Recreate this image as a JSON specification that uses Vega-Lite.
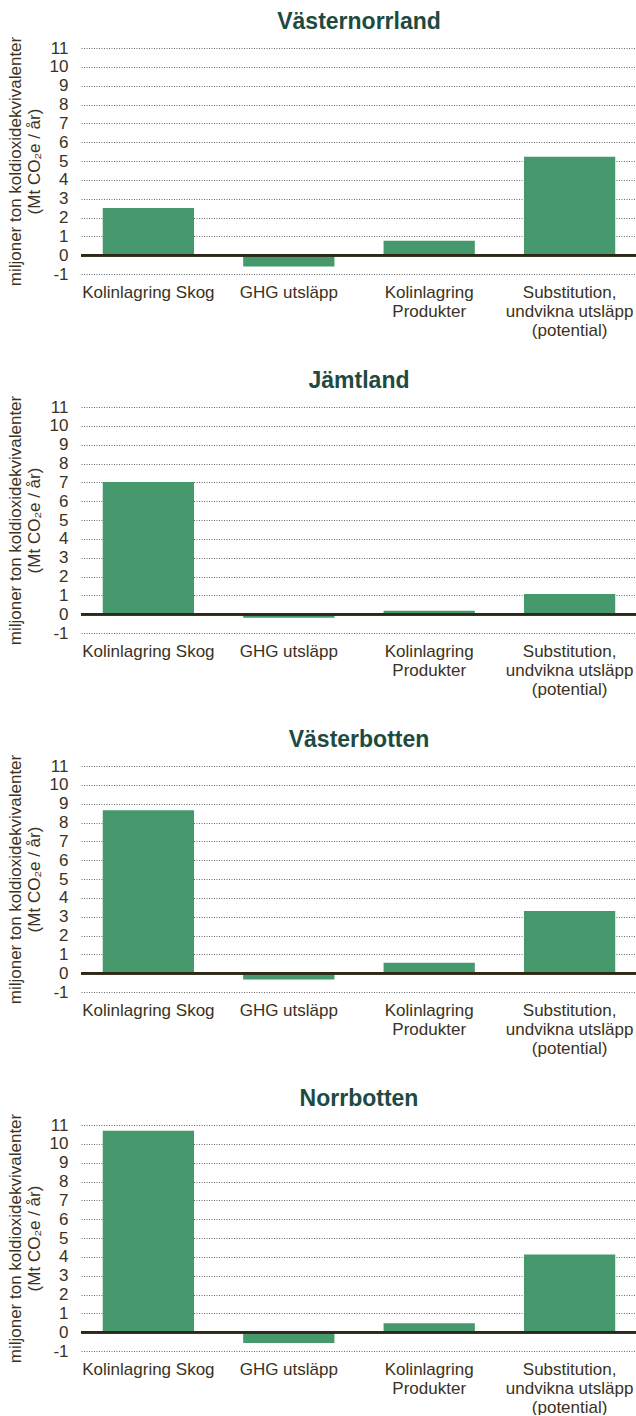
{
  "$schema": "https://vega.github.io/schema/vega-lite/v6.json",
  "background": "white",
  "padding": {"left": 6, "top": 11, "right": 0, "bottom": 0},
  "spacing": 32,
  "config": {
    "font": "Liberation Sans",
    "view": {"stroke": null},
    "title": {"fontSize": 23, "fontWeight": "bold", "color": "#1d4a41", "anchor": "middle", "frame": "group", "offset": 2},
    "axisY": {"grid": true, "gridDash": [1, 1.5], "gridColor": "#6a6a6a", "gridWidth": 1, "domain": false, "ticks": false, "labelFontSize": 17, "labelColor": "#3a3222", "labelPadding": 13, "labelOverlap": false, "tickCount": 13, "titleFontSize": 17, "titleFontWeight": "normal", "titleColor": "#3a3222", "titlePadding": 6, "titleLineHeight": 18.5},
    "axisX": {"grid": false, "domain": false, "ticks": false, "labelFontSize": 17, "labelColor": "#3a3222", "labelPadding": 10, "labelAngle": 0, "labelLineHeight": 19, "labelLimit": 0, "labelBaseline": "top", "labelOverlap": false}
  },
  "vconcat": [
    {
      "title": "Västernorrland",
      "width": 556, "height": 226,
      "data": {"values": [
        {"kategori": "Kolinlagring Skog", "varde": 2.5},
        {"kategori": "GHG utsläpp", "varde": -0.6},
        {"kategori": "Kolinlagring Produkter", "varde": 0.76},
        {"kategori": "Substitution, undvikna utsläpp (potential)", "varde": 5.23}
      ]},
      "layer": [
        {"mark": {"type": "bar", "color": "#46986d"},
         "encoding": {
          "x": {"field": "kategori", "type": "nominal", "sort": null, "scale": {"paddingInner": 0.35, "paddingOuter": 0.155}, "title": null,
                "axis": {"labelExpr": "datum.value == 'Kolinlagring Produkter' ? ['Kolinlagring', 'Produkter'] : datum.value == 'Substitution, undvikna utsläpp (potential)' ? ['Substitution,', 'undvikna utsläpp', '(potential)'] : datum.value"}},
          "y": {"field": "varde", "type": "quantitative", "scale": {"domain": [-1, 11], "nice": false, "zero": false},
                "axis": {"values": [-1, 0, 1, 2, 3, 4, 5, 6, 7, 8, 9, 10, 11], "tickCount": 13, "labelOverlap": false, "labelExpr": "replace(datum.label, '\u2212', '-')"},
                "title": ["miljoner ton koldioxidekvivalenter", "(Mt CO₂e / år)"]}
         }},
        {"mark": {"type": "rule", "color": "#2e2818", "strokeWidth": 2.5}, "encoding": {"y": {"datum": 0}}}
      ]
    },
    {
      "title": "Jämtland",
      "width": 556, "height": 226,
      "data": {"values": [
        {"kategori": "Kolinlagring Skog", "varde": 7.02},
        {"kategori": "GHG utsläpp", "varde": -0.19},
        {"kategori": "Kolinlagring Produkter", "varde": 0.18},
        {"kategori": "Substitution, undvikna utsläpp (potential)", "varde": 1.07}
      ]},
      "layer": [
        {"mark": {"type": "bar", "color": "#46986d"},
         "encoding": {
          "x": {"field": "kategori", "type": "nominal", "sort": null, "scale": {"paddingInner": 0.35, "paddingOuter": 0.155}, "title": null,
                "axis": {"labelExpr": "datum.value == 'Kolinlagring Produkter' ? ['Kolinlagring', 'Produkter'] : datum.value == 'Substitution, undvikna utsläpp (potential)' ? ['Substitution,', 'undvikna utsläpp', '(potential)'] : datum.value"}},
          "y": {"field": "varde", "type": "quantitative", "scale": {"domain": [-1, 11], "nice": false, "zero": false},
                "axis": {"values": [-1, 0, 1, 2, 3, 4, 5, 6, 7, 8, 9, 10, 11], "tickCount": 13, "labelOverlap": false, "labelExpr": "replace(datum.label, '\u2212', '-')"},
                "title": ["miljoner ton koldioxidekvivalenter", "(Mt CO₂e / år)"]}
         }},
        {"mark": {"type": "rule", "color": "#2e2818", "strokeWidth": 2.5}, "encoding": {"y": {"datum": 0}}}
      ]
    },
    {
      "title": "Västerbotten",
      "width": 556, "height": 226,
      "data": {"values": [
        {"kategori": "Kolinlagring Skog", "varde": 8.65},
        {"kategori": "GHG utsläpp", "varde": -0.34},
        {"kategori": "Kolinlagring Produkter", "varde": 0.55},
        {"kategori": "Substitution, undvikna utsläpp (potential)", "varde": 3.3}
      ]},
      "layer": [
        {"mark": {"type": "bar", "color": "#46986d"},
         "encoding": {
          "x": {"field": "kategori", "type": "nominal", "sort": null, "scale": {"paddingInner": 0.35, "paddingOuter": 0.155}, "title": null,
                "axis": {"labelExpr": "datum.value == 'Kolinlagring Produkter' ? ['Kolinlagring', 'Produkter'] : datum.value == 'Substitution, undvikna utsläpp (potential)' ? ['Substitution,', 'undvikna utsläpp', '(potential)'] : datum.value"}},
          "y": {"field": "varde", "type": "quantitative", "scale": {"domain": [-1, 11], "nice": false, "zero": false},
                "axis": {"values": [-1, 0, 1, 2, 3, 4, 5, 6, 7, 8, 9, 10, 11], "tickCount": 13, "labelOverlap": false, "labelExpr": "replace(datum.label, '\u2212', '-')"},
                "title": ["miljoner ton koldioxidekvivalenter", "(Mt CO₂e / år)"]}
         }},
        {"mark": {"type": "rule", "color": "#2e2818", "strokeWidth": 2.5}, "encoding": {"y": {"datum": 0}}}
      ]
    },
    {
      "title": "Norrbotten",
      "width": 556, "height": 226,
      "data": {"values": [
        {"kategori": "Kolinlagring Skog", "varde": 10.7},
        {"kategori": "GHG utsläpp", "varde": -0.57},
        {"kategori": "Kolinlagring Produkter", "varde": 0.48},
        {"kategori": "Substitution, undvikna utsläpp (potential)", "varde": 4.12}
      ]},
      "layer": [
        {"mark": {"type": "bar", "color": "#46986d"},
         "encoding": {
          "x": {"field": "kategori", "type": "nominal", "sort": null, "scale": {"paddingInner": 0.35, "paddingOuter": 0.155}, "title": null,
                "axis": {"labelExpr": "datum.value == 'Kolinlagring Produkter' ? ['Kolinlagring', 'Produkter'] : datum.value == 'Substitution, undvikna utsläpp (potential)' ? ['Substitution,', 'undvikna utsläpp', '(potential)'] : datum.value"}},
          "y": {"field": "varde", "type": "quantitative", "scale": {"domain": [-1, 11], "nice": false, "zero": false},
                "axis": {"values": [-1, 0, 1, 2, 3, 4, 5, 6, 7, 8, 9, 10, 11], "tickCount": 13, "labelOverlap": false, "labelExpr": "replace(datum.label, '\u2212', '-')"},
                "title": ["miljoner ton koldioxidekvivalenter", "(Mt CO₂e / år)"]}
         }},
        {"mark": {"type": "rule", "color": "#2e2818", "strokeWidth": 2.5}, "encoding": {"y": {"datum": 0}}}
      ]
    }
  ]
}
